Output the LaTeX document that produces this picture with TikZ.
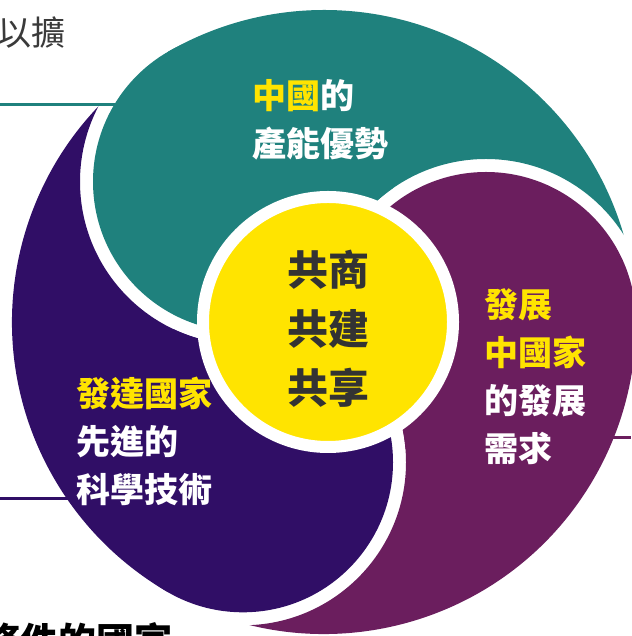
\documentclass[tikz,border=0pt]{standalone}
\usepackage{fontspec}
\newfontfamily\cjk{Noto Sans CJK TC}
\definecolor{cTeal}{RGB}{31,129,125}
\definecolor{cPurple}{RGB}{107,30,94}
\definecolor{cIndigo}{RGB}{48,14,102}
\definecolor{cYellow}{RGB}{255,228,0}
\definecolor{cDark}{RGB}{51,51,51}
\definecolor{cGray}{RGB}{58,58,58}
\tikzset{
  bladetext/.style={font=\cjk\bfseries\fontsize{34}{48}\selectfont, text=white, align=left, inner sep=0pt, anchor=north west},
  connline/.style={line width=3pt},
}
\begin{document}
\begin{tikzpicture}[x=1pt,y=1pt]
\useasboundingbox (0,0) rectangle (631,636);
\coordinate (C) at (324,314);
\coordinate (P) at (486,314);
\coordinate (T) at (243,454.3);
\coordinate (I) at (243,173.7);
% connector stubs
\coordinate (lt0) at (0,531);   \coordinate (lt1) at (118,531);
\coordinate (li0) at (0,137);   \coordinate (li1) at (70,137);
\coordinate (lp0) at (610,198); \coordinate (lp1) at (631,198);
\draw[connline, cTeal] (lt0) -- (lt1);
\draw[connline, cIndigo] (li0) -- (li1);
\draw[connline, cPurple] (lp0) -- (lp1);
% teal blade (cut by purple head ring)
\begin{scope}
  \clip (P) circle[radius=163] (-20,-20) -- (-20,660) -- (660,660) -- (660,-20) -- cycle;
  \fill[cTeal] (T) circle[radius=150];
  \fill[cTeal] (C) -- ++(0:312) arc[start angle=0,end angle=120,radius=312] -- cycle;
\end{scope}
% purple blade (cut by indigo head ring)
\begin{scope}
  \clip (I) circle[radius=163] (-20,-20) -- (-20,660) -- (660,660) -- (660,-20) -- cycle;
  \fill[cPurple] (P) circle[radius=150];
  \fill[cPurple] (C) -- ++(-120:312) arc[start angle=-120,end angle=0,radius=312] -- cycle;
\end{scope}
% indigo blade (cut by teal head ring)
\begin{scope}
  \clip (T) circle[radius=163] (-20,-20) -- (-20,660) -- (660,660) -- (660,-20) -- cycle;
  \fill[cIndigo] (I) circle[radius=150];
  \fill[cIndigo] (C) -- ++(120:312) arc[start angle=120,end angle=240,radius=312] -- cycle;
\end{scope}
% centre
\node[circle, fill=cYellow, draw=white, line width=12pt, minimum size=250pt, inner sep=0pt] (Y) at (328,314) {};
\node[font=\cjk\bfseries\fontsize{41}{59}\selectfont, text=cDark, align=center, inner sep=0pt] (ytxt) at (328,307) {共商\\共建\\共享};
% blade texts
\node[bladetext] (ttxt) at (252,557) {\textcolor{cYellow}{中國}的\\產能優勢};
\node[bladetext] (ptxt) at (484,348) {\textcolor{cYellow}{發展}\\\textcolor{cYellow}{中國家}\\的發展\\需求};
\node[bladetext] (itxt) at (76,259) {\textcolor{cYellow}{發達國家}\\先進的\\科學技術};
% cut-off surrounding texts
\node[font=\cjk\fontsize{34}{40}\selectfont, text=cGray, inner sep=0pt, anchor=north east] (toptxt) at (66,619) {以擴};
\node[font=\cjk\bfseries\fontsize{38}{44}\selectfont, text=black, inner sep=0pt, anchor=north west] (bottxt) at (-18,14) {條件的國家};
\end{tikzpicture}
\end{document}
